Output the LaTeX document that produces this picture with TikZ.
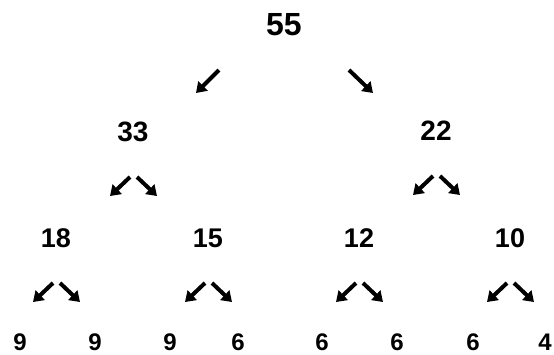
\documentclass[tikz,border=0pt]{standalone}
\usepackage{fontspec}
\setmainfont{Liberation Sans}
\usetikzlibrary{arrows.meta}

\begin{document}
\begin{tikzpicture}[x=1pt,y=-1pt,
  num/.style={font=\bfseries\fontsize{#1}{#1}\selectfont,inner sep=0pt},
  arr/.style={line width=4pt,-{Triangle[width=13pt,length=10pt]}}]
\useasboundingbox (0,0) rectangle (554,354);
% top
\node[num=32] (n55) at (284,25) {55};
% second row
\node[num=28] (n33) at (133,132) {33};
\node[num=28] (n22) at (436,131) {22};
% third row
\node[num=27] (n18) at (56,238) {18};
\node[num=27] (n15) at (208,238) {15};
\node[num=27] (n12) at (359,238) {12};
\node[num=27] (n10) at (510,238) {10};
% bottom row
\node[num=24] (b1) at (20,342) {9};
\node[num=24] (b2) at (95,342) {9};
\node[num=24] (b3) at (170,342) {9};
\node[num=24] (b4) at (238,342) {6};
\node[num=24] (b5) at (322,342) {6};
\node[num=24] (b6) at (397,342) {6};
\node[num=24] (b7) at (473,342) {6};
\node[num=24] (b8) at (545,342) {4};
% arrows
\draw[arr] (n55) ++(-65,45) -- ++(-23,23);
\draw[arr] (n55) ++(65,45) -- ++(24,23);
\foreach \p in {n33,n22,n18,n15,n12,n10} {
  \draw[arr] (\p) ++(-3,45) -- ++(-20,19);
  \draw[arr] (\p) ++(4,45) -- ++(20,19);
}
\end{tikzpicture}
\end{document}
